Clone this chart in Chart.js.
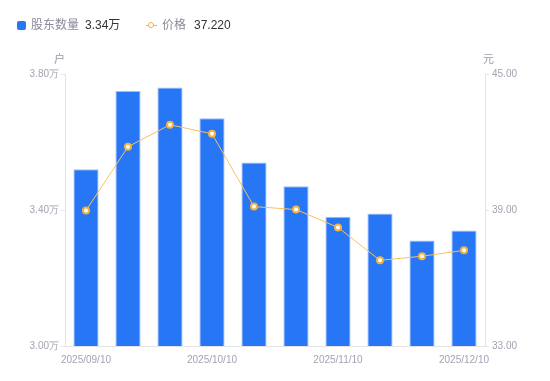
<!DOCTYPE html>
<html><head><meta charset="utf-8">
<script src="https://cdn.jsdelivr.net/npm/chart.js@4.4.0/dist/chart.umd.min.js"></script>
<style>
html,body{margin:0;padding:0;background:#fff;}
#wrap{position:relative;width:550px;height:381px;font-family:"Liberation Sans","Noto Sans CJK SC",sans-serif;}
#legend{position:absolute;left:0;top:0;height:40px;width:550px;font-size:12px;}
.it{position:absolute;top:18px;line-height:15px;white-space:nowrap;}
.lab{color:#8a8a99;}
.val{color:#333;}
.unit{position:absolute;top:50px;font-size:11px;color:#9a9aaa;}
</style></head>
<body><div id="wrap">
<canvas id="c" width="550" height="381"></canvas>
<div id="legend">
  <div class="it" style="left:17px;"><span style="display:inline-block;width:9px;height:9px;background:#2676F5;border-radius:2px;vertical-align:-1px;margin-right:5px;"></span><span class="lab">股东数量</span><span class="val" style="margin-left:6px;">3.34万</span></div>
  <div class="it" style="left:146px;"><span style="display:inline-block;position:relative;width:11px;height:9px;vertical-align:-1px;margin-right:5px;"><span style="position:absolute;left:0;top:4px;width:11px;height:1px;background:#F6B23E;"></span><span style="position:absolute;left:2px;top:1px;width:4px;height:4px;border:1.5px solid #F6B23E;border-radius:50%;background:#fff;"></span></span><span class="lab">价格</span><span class="val" style="margin-left:8px;">37.220</span></div>
</div>
<div class="unit" style="left:54px;">户</div>
<div class="unit" style="left:483px;">元</div>
</div>
<script>
const categories = ["2025/09/10","2025/09/20","2025/09/30","2025/10/10","2025/10/20","2025/10/31","2025/11/10","2025/11/20","2025/11/28","2025/12/10"];
const holders = [3.52, 3.75, 3.76, 3.67, 3.54, 3.47, 3.38, 3.39, 3.31, 3.34];
const prices = [38.98, 41.79, 42.76, 42.36, 39.15, 39.02, 38.23, 36.78, 36.96, 37.22];
const leftTicks = [3.00, 3.40, 3.80];
const rightTicks = [33.00, 39.00, 45.00];

const tickColor = '#a3a3b3';
const axisColor = '#e3e3e8';

new Chart(document.getElementById('c'), {
  data: {
    labels: categories,
    datasets: [
      {
        type: 'line', label: '价格', data: prices, yAxisID: 'y1',
        borderColor: '#F9C063', borderWidth: 1, tension: 0,
        pointRadius: 3, pointBorderWidth: 2, pointBackgroundColor: '#fff',
        pointBorderColor: '#F6B23E', order: 0
      },
      {
        type: 'bar', label: '股东数量', data: holders, yAxisID: 'y',
        backgroundColor: '#2676F5', borderColor: 'rgba(150,185,250,0.9)', borderWidth: {top:1,left:1,right:1,bottom:0},
        barPercentage: 0.6, categoryPercentage: 1.0, order: 1
      }
    ]
  },
  options: {
    responsive: false, animation: false,
    layout: { padding: { top: 74, left: 0, right: 0, bottom: 0 } },
    plugins: { legend: { display: false }, tooltip: { enabled: false } },
    scales: {
      x: {
        grid: { display: false },
        border: { display: true, color: axisColor },
        ticks: {
          autoSkip: false, maxRotation: 0, color: tickColor, padding: 0,
          font: { size: 10, family: 'Liberation Sans' },
          callback: function(v, i) { return i % 3 === 0 ? categories[i] : ''; }
        },
        afterFit: s => { s.height = 35; }
      },
      y: {
        position: 'left', min: 3.0, max: 3.8,
        grid: { drawOnChartArea: false, drawTicks: true, tickLength: 4, color: axisColor },
        border: { display: true, color: axisColor },
        afterBuildTicks: s => { s.ticks = leftTicks.map(v => ({ value: v })); },
        ticks: { color: tickColor, padding: 2, font: { size: 10, family: 'Liberation Sans' },
          callback: v => v.toFixed(2) + '万' },
        afterFit: s => { s.width = 65; }
      },
      y1: {
        position: 'right', min: 33, max: 45,
        grid: { drawOnChartArea: false, drawTicks: true, tickLength: 4, color: axisColor },
        border: { display: true, color: axisColor },
        afterBuildTicks: s => { s.ticks = rightTicks.map(v => ({ value: v })); },
        ticks: { color: tickColor, padding: 3, font: { size: 10, family: 'Liberation Sans' },
          callback: v => v.toFixed(2) },
        afterFit: s => { s.width = 65; }
      }
    }
  }
});
</script>
</body></html>
